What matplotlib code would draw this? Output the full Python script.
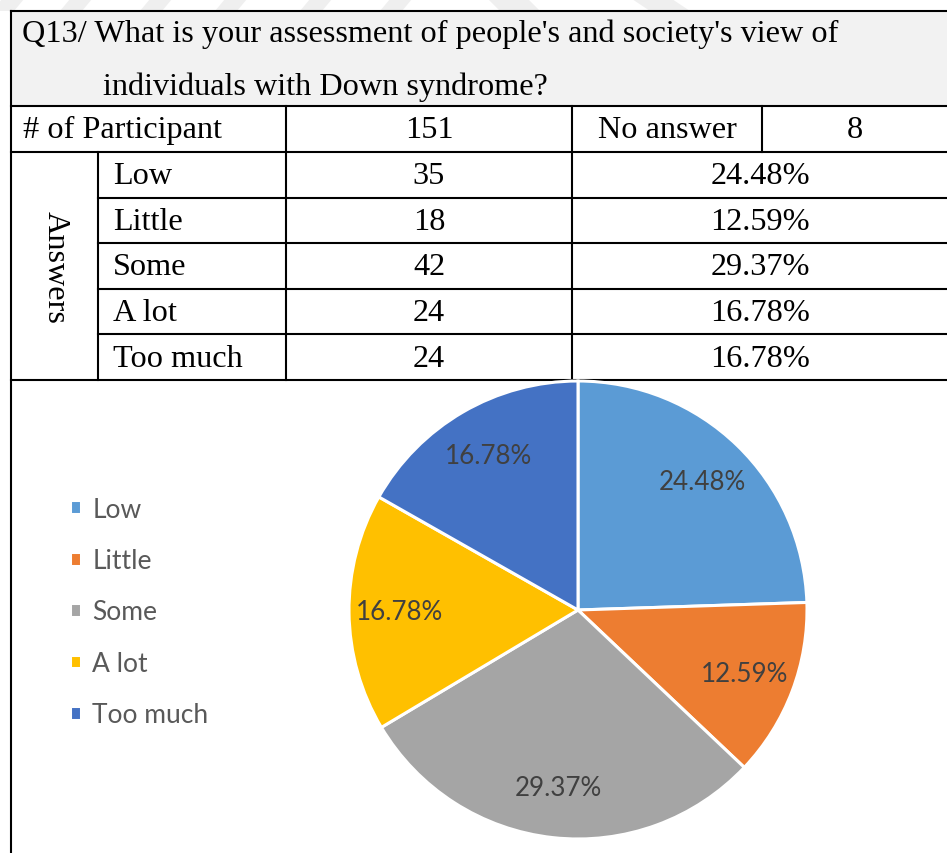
import matplotlib.pyplot as plt
from matplotlib.patches import Polygon

# survey data
question = ["Q13/ What is your assessment of people's and society's view of",
            "individuals with Down syndrome?"]
participants = 151
no_answer = 8
answers = ["Low", "Little", "Some", "A lot", "Too much"]
counts = [35, 18, 42, 24, 24]
colors = ["#5b9bd5", "#ed7d31", "#a5a5a5", "#ffc000", "#4472c4"]

total = sum(counts)
percents = ["%.2f%%" % (c / total * 100) for c in counts]

W, H = 947, 854
fig = plt.figure(figsize=(W / 100, H / 100), dpi=100)

# page layer in pixel coordinates for the table
page = fig.add_axes([0, 0, 1, 1])
page.set_xlim(0, W)
page.set_ylim(H, 0)
page.axis("off")

# faint stripes of the page watermark along the top edge
for x0, lean in [(-8, 10), (60, 10), (140, 10), (215, 10), (300, 10), (380, 10),
                 (500, -12), (650, -18)]:
    w = 22 if lean > 0 else 40
    page.add_patch(Polygon([(x0, 12), (x0 + w, 12), (x0 + w + lean, 0), (x0 + lean, 0)],
                           closed=True, facecolor="#efefef", edgecolor="none", zorder=0))

# shaded question row
page.add_patch(Polygon([(11, 12), (W, 12), (W, 107), (11, 107)], closed=True,
                       facecolor="#f2f2f2", edgecolor="none", zorder=1))

lw = 1.5
row_edges = [153, 198.6, 244, 289.6, 335.2, 381]

def hline(y, x0, x1):
    page.plot([x0, x1], [y, y], color="black", lw=lw, solid_capstyle="projecting", zorder=3)

def vline(x, y0, y1):
    page.plot([x, x], [y0, y1], color="black", lw=lw, solid_capstyle="projecting", zorder=3)

hline(12, 11, W)
hline(107, 11, W)
hline(153, 11, W)
for y in row_edges[1:-1]:
    hline(y, 98, W)
hline(381, 11, W)
vline(11, 12, H)
vline(286, 107, 381)
vline(572, 107, 381)
vline(762, 107, 153)
vline(98, 153, 381)

serif = "Liberation Serif"
fs = 23.2
page.text(22, 34, question[0], family=serif, fontsize=fs, va="center", ha="left", zorder=4)
page.text(103, 87, question[1], family=serif, fontsize=fs, va="center", ha="left", zorder=4)
page.text(23, 130, "# of Participant", family=serif, fontsize=fs, va="center", ha="left")
page.text(429, 130, str(participants), family=serif, fontsize=fs, va="center", ha="center")
page.text(667, 130, "No answer", family=serif, fontsize=fs, va="center", ha="center")
page.text(855, 130, str(no_answer), family=serif, fontsize=fs, va="center", ha="center")
page.text(55, 267, "Answers", family=serif, fontsize=fs, va="center", ha="center", rotation=-90)

for i, (name, c, p) in enumerate(zip(answers, counts, percents)):
    yc = (row_edges[i] + row_edges[i + 1]) / 2 + 1
    page.text(113, yc, name, family=serif, fontsize=fs, va="center", ha="left")
    page.text(429, yc, str(c), family=serif, fontsize=fs, va="center", ha="center")
    page.text(760, yc, p, family=serif, fontsize=fs, va="center", ha="center")

# pie chart
cx, cy, r = 578, 611, 229
ax = fig.add_axes([(cx - r) / W, 1 - (cy + r) / H, 2 * r / W, 2 * r / H])
wedges, _, autotexts = ax.pie(counts, colors=colors, startangle=90, counterclock=False,
                              autopct=lambda v: "%.2f%%" % v, pctdistance=0.78,
                              wedgeprops=dict(edgecolor="white", linewidth=2.2),
                              textprops=dict(family="Lato", fontsize=18.7, color="#404040"))
ax.set_xlim(-1, 1)
ax.set_ylim(-1, 1)
ax.set_aspect("equal")

fig.legend(wedges, answers, loc="center left", bbox_to_anchor=(70 / W, 1 - 613 / H),
           frameon=False, borderpad=0, borderaxespad=0,
           handlelength=0.42, handleheight=0.42, handletextpad=0.42, labelspacing=1.0,
           prop=dict(family="Lato", size=19), labelcolor="#595959")

fig.savefig("out.png", dpi=100)
